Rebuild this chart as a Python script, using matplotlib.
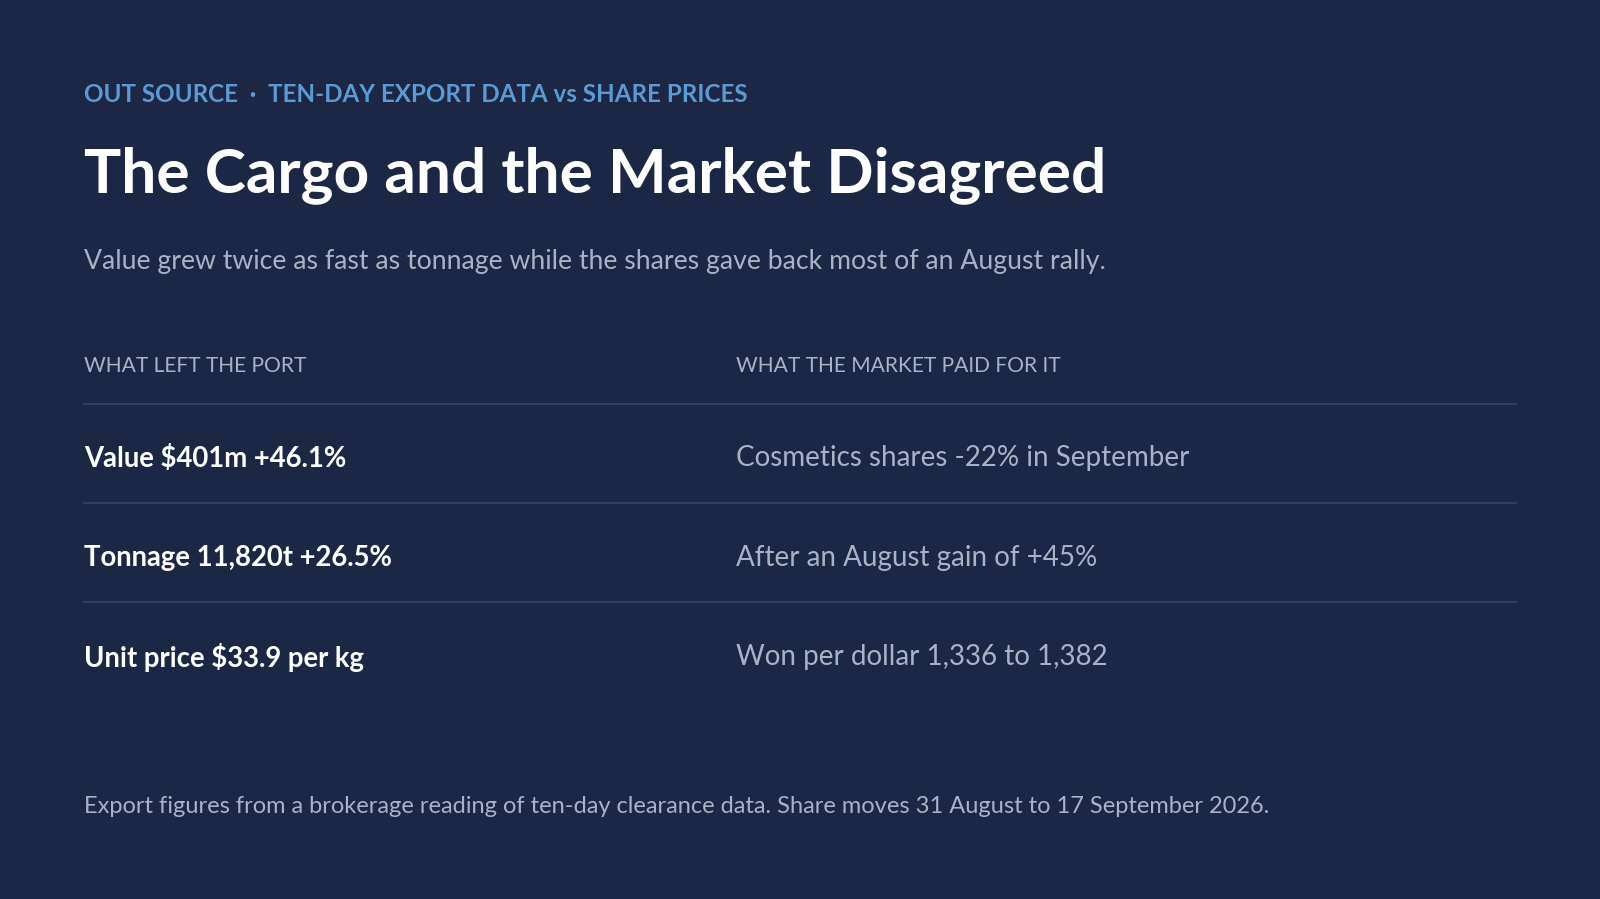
import matplotlib

matplotlib.use("Agg")
import matplotlib.pyplot as plt

W, H = 1600, 899
S = 1600 / 1568  # reference was read at 1568 px wide

kicker = "OUT SOURCE  ·  TEN-DAY EXPORT DATA vs SHARE PRICES"
title = "The Cargo and the Market Disagreed"
subtitle = "Value grew twice as fast as tonnage while the shares gave back most of an August rally."
col_heads = ["WHAT LEFT THE PORT", "WHAT THE MARKET PAID FOR IT"]
left_rows = ["Value $401m +46.1%", "Tonnage 11,820t +26.5%", "Unit price $33.9 per kg"]
right_rows = ["Cosmetics shares -22% in September", "After an August gain of +45%",
              "Won per dollar 1,336 to 1,382"]
note = ("Export figures from a brokerage reading of ten-day clearance data. "
        "Share moves 31 August to 17 September 2026.")

BG = "#1b2744"
FONT = "Lato"

fig = plt.figure(figsize=(W / 100, H / 100), dpi=100, facecolor=BG)


def put(x, y, s, size, color, weight="normal"):
    fig.text(x * S / W, 1 - y * S / H, s, fontsize=size, color=color,
             fontweight=weight, family=FONT, va="center", ha="left")


def rule(y):
    fig.add_artist(plt.Line2D([82 * S / W, 1486 * S / W], [1 - y * S / H] * 2,
                              color="#34456b", linewidth=1.2))


put(82, 93, kicker, 17.4, "#5b9bd5", "bold")
put(82, 172, title, 44.8, "white", "bold")
put(82, 256, subtitle, 19.2, "#a9b3c6")
put(82, 359, col_heads[0], 15.1, "#a9b3c6")
put(721, 359, col_heads[1], 15.1, "#a9b3c6")
rule(396)
row_y = [449, 547, 644]
for i, (l, r) in enumerate(zip(left_rows, right_rows)):
    put(82, row_y[i], l, 19.8, "white", "bold")
    put(721, row_y[i], r, 20, "#a9b3c6")
    if i < len(left_rows) - 1:
        rule([493, 590][i])
put(82, 790, note, 17, "#a9b3c6")

fig.savefig("out.png", dpi=100, facecolor=BG)
